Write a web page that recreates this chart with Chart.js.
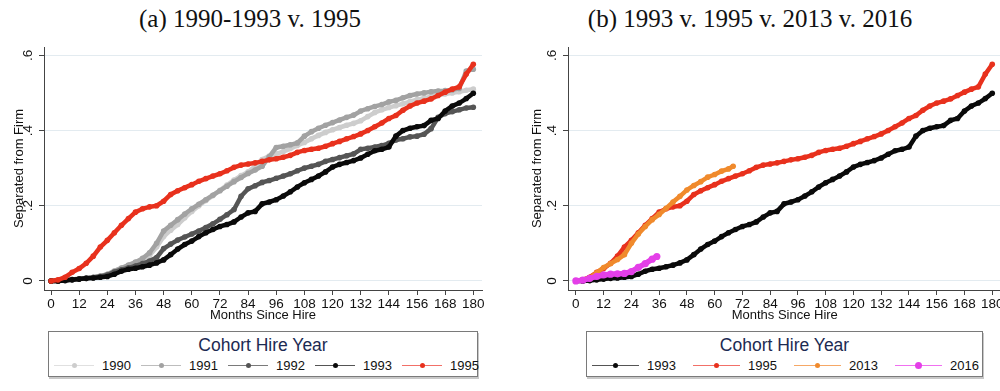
<!DOCTYPE html>
<html>
<head>
<meta charset="utf-8">
<script src="https://cdn.jsdelivr.net/npm/chart.js@4/dist/chart.umd.min.js"></script>
<style>
  html, body { margin:0; padding:0; width:1000px; height:391px; overflow:hidden; background:#fff; }
  body { position:relative; font-family:"Liberation Sans", Arial, sans-serif; }
  .ptitle { position:absolute; top:4px; width:500px; text-align:center; line-height:29px; font-family:"Liberation Serif", "Times New Roman", serif; font-size:25px; color:#111; }
  .wrap { position:absolute; top:0; height:330px; }
  .legend { position:absolute; top:331px; height:44px; border:1px solid #7a7a7a; box-shadow:1px 2px 0 #c8c8c8; background:#fff; }
  .legend .lt { position:absolute; top:3px; left:0; right:0; text-align:center; font-size:17.5px; color:#1c2a52; }
  .legend .item { position:absolute; top:26px; height:16px; }
  .legend .ln { position:absolute; top:7px; height:1px; }
  .legend .dot { position:absolute; border-radius:50%; }
  .legend .tx { position:absolute; top:0; font-size:13px; line-height:16px; color:#111; }
</style>
</head>
<body>
<div class="ptitle" style="left:0">(a) 1990-1993 v. 1995</div>
<div class="ptitle" style="left:500px">(b) 1993 v. 1995 v. 2013 v. 2016</div>
<div class="wrap" style="left:0;width:500px"><canvas id="leftChart"></canvas></div>
<div class="wrap" style="left:500px;width:520px"><canvas id="rightChart"></canvas></div>
<div class="legend" id="leftLegend" style="left:48px;width:428px"><div class="lt">Cohort Hire Year</div></div>
<div class="legend" id="rightLegend" style="left:586px;width:395px"><div class="lt">Cohort Hire Year</div></div>
<script>
// --- Data: share separated from firm, read every 3 months since hire ---
const months = [0,3,6,9,12,15,18,21,24,27,30,33,36,39,42,45,48,51,54,57,60,63,66,69,72,75,78,81,84,87,90,
  93,96,99,102,105,108,111,114,117,120,123,126,129,132,135,138,141,144,147,150,153,156,159,162,165,168,171,174,177,180];

const sep1990 = [0,0,0.002,0.004,0.006,0.008,0.01,0.013,0.018,0.027,0.035,0.04,0.046,0.055,0.068,0.09,0.118,0.135,0.15,0.168,0.185,
  0.2,0.214,0.227,0.241,0.255,0.268,0.28,0.29,0.305,0.323,0.332,0.338,0.344,0.352,0.36,0.368,0.378,0.387,0.395,0.402,
  0.408,0.414,0.419,0.426,0.437,0.448,0.455,0.461,0.466,0.471,0.477,0.482,0.486,0.49,0.494,0.497,0.5,0.503,0.507,0.51];
const sep1991 = [0,0,0.002,0.004,0.006,0.008,0.01,0.013,0.018,0.026,0.034,0.042,0.05,0.06,0.075,0.1,0.133,0.148,0.163,0.178,0.192,
  0.204,0.216,0.228,0.24,0.252,0.264,0.275,0.286,0.295,0.305,0.33,0.355,0.358,0.362,0.367,0.385,0.397,0.406,0.414,0.421,
  0.428,0.435,0.441,0.452,0.458,0.464,0.469,0.476,0.48,0.487,0.493,0.497,0.5,0.503,0.505,0.506,0.508,0.512,0.558,0.563];
const sep1992 = [0,0,0.002,0.004,0.005,0.007,0.009,0.012,0.016,0.024,0.03,0.035,0.04,0.046,0.053,0.062,0.086,0.098,0.109,0.117,0.125,
  0.133,0.142,0.152,0.164,0.176,0.19,0.225,0.245,0.253,0.262,0.267,0.273,0.279,0.285,0.293,0.3,0.305,0.31,0.318,0.323,
  0.328,0.333,0.338,0.35,0.353,0.356,0.36,0.366,0.375,0.378,0.383,0.385,0.39,0.405,0.435,0.445,0.45,0.455,0.46,0.462];
const sep1993 = [0,0,0.001,0.003,0.005,0.007,0.008,0.01,0.012,0.018,0.026,0.031,0.034,0.038,0.042,0.048,0.056,0.07,0.085,0.097,0.106,
  0.118,0.128,0.137,0.145,0.15,0.157,0.17,0.181,0.185,0.205,0.21,0.216,0.226,0.237,0.25,0.261,0.27,0.279,0.29,0.303,
  0.31,0.315,0.32,0.327,0.337,0.346,0.35,0.356,0.385,0.4,0.406,0.41,0.413,0.427,0.432,0.452,0.465,0.473,0.485,0.499];
const sep1995 = [0,0.003,0.01,0.023,0.033,0.047,0.066,0.09,0.108,0.128,0.148,0.166,0.183,0.192,0.197,0.2,0.212,0.23,0.24,0.248,0.256,
  0.265,0.272,0.279,0.285,0.293,0.302,0.308,0.311,0.314,0.318,0.322,0.325,0.329,0.334,0.342,0.347,0.35,0.353,0.358,0.365,
  0.371,0.378,0.384,0.391,0.4,0.41,0.42,0.432,0.44,0.454,0.465,0.473,0.478,0.484,0.493,0.502,0.51,0.516,0.55,0.576];

const months2013 = [0,3,6,9,12,15,18,21,24,27,30,33,36,39,42,45,48,51,54,57,60,63,66,68];
const sep2013 = [0,0.003,0.008,0.022,0.036,0.046,0.057,0.07,0.1,0.125,0.145,0.163,0.177,0.193,0.21,0.225,0.242,0.254,0.264,0.276,0.283,0.292,0.298,0.305];
const months2016 = [0,3,6,9,12,15,18,21,24,27,30,33,35];
const sep2016 = [0,0.002,0.007,0.012,0.016,0.018,0.019,0.02,0.025,0.036,0.046,0.058,0.065];

const xTicks = [0,12,24,36,48,60,72,84,96,108,120,132,144,156,168,180];
const yTicks = [0,0.2,0.4,0.6];
const yTickLabels = ['0','.2','.4','.6'];

// --- Styles per cohort ---
const style = {
  '1990': { color:'#cdcdcd', legendLine:'#e0e0e0', r:2.8 },
  '1991': { color:'#a2a2a2', legendLine:'#bdbdbd', r:2.8 },
  '1992': { color:'#555555', legendLine:'#7a7a7a', r:2.8 },
  '1993': { color:'#0a0a0a', legendLine:'#555555', r:2.8 },
  '1995': { color:'#e8311d', legendLine:'#f27068', r:2.8 },
  '2013': { color:'#f08a2c', legendLine:'#f6a866', r:2.8 },
  '2016': { color:'#e43fe8', legendLine:'#f070f0', r:3.6 }
};

const pts = (xs, ys) => xs.map((x, i) => ({ x: x, y: ys[i] }));

function dataset(year, xs, ys, order) {
  const s = style[year];
  return {
    label: year,
    data: pts(xs, ys),
    borderColor: s.color,
    backgroundColor: s.color,
    borderWidth: s.r > 3 ? 5.5 : 4.5,
    pointRadius: s.r,
    pointBorderWidth: 0,
    pointBackgroundColor: s.color,
    tension: 0,
    fill: false,
    order: order
  };
}

const tickFont = { family: 'Liberation Sans', size: 13.5 };
const titleFont = { family: 'Liberation Sans', size: 13 };

function makeChart(id, datasets, xMin, xMax, yWidth, yTitlePad, padRight) {
  return new Chart(document.getElementById(id), {
    type: 'line',
    data: { datasets: datasets },
    options: {
      responsive: true,
      maintainAspectRatio: false,
      animation: false,
      devicePixelRatio: 1,
      layout: { padding: { left: 0, top: 47, right: padRight, bottom: 0 } },
      plugins: { legend: { display: false }, tooltip: { enabled: false } },
      scales: {
        x: {
          type: 'linear', min: xMin, max: xMax,
          afterBuildTicks: s => { s.ticks = xTicks.map(v => ({ value: v })); },
          afterFit: s => { s.height = 40; },
          grid: { drawOnChartArea: false, drawTicks: true, tickLength: 5, tickColor: '#444' },
          border: { color: '#444', width: 1 },
          ticks: { color: '#111', font: tickFont, padding: 1, maxRotation: 0, autoSkip: false, callback: v => String(v) },
          title: { display: true, text: 'Months Since Hire', color: '#111', font: titleFont, padding: { top: 0, bottom: 7 } }
        },
        y: {
          min: -0.024, max: 0.622,
          afterBuildTicks: s => { s.ticks = yTicks.map(v => ({ value: v })); },
          afterFit: s => { s.width = yWidth; },
          grid: { color: '#e3ebf0', lineWidth: 1, tickLength: 5, tickColor: '#444' },
          border: { color: '#444', width: 1 },
          ticks: { color: '#111', font: tickFont, padding: 5, minRotation: 90, maxRotation: 90, crossAlign: 'center', autoSkip: false,
                   callback: v => yTickLabels[yTicks.indexOf(v)] },
          title: { display: true, text: 'Separated from Firm', color: '#111', font: titleFont, padding: { top: yTitlePad, bottom: 0 } }
        }
      }
    }
  });
}

makeChart('leftChart', [
  dataset('1990', months, sep1990, 5),
  dataset('1991', months, sep1991, 4),
  dataset('1992', months, sep1992, 3),
  dataset('1993', months, sep1993, 2),
  dataset('1995', months, sep1995, 1)
], -3, 183.7, 44, 12, 18);

makeChart('rightChart', [
  dataset('1993', months, sep1993, 4),
  dataset('1995', months, sep1995, 3),
  dataset('2013', months2013, sep2013, 2),
  dataset('2016', months2016, sep2016, 1)
], -3.4, 184, 68, 30, 18.5);

// --- Legends ---
function buildLegend(id, years, pitch, lineW) {
  const box = document.getElementById(id);
  years.forEach((y, i) => {
    const s = style[y];
    const item = document.createElement('div');
    item.className = 'item';
    item.style.left = (5 + i * pitch) + 'px';
    const d = s.r > 3 ? 7 : 5;
    item.innerHTML =
      '<div class="ln" style="left:0;width:' + lineW + 'px;background:' + s.legendLine + '"></div>' +
      '<div class="dot" style="left:' + (lineW / 2 - d / 2) + 'px;top:' + (7.5 - d / 2) + 'px;width:' + d + 'px;height:' + d + 'px;background:' + s.color + '"></div>' +
      '<div class="tx" style="left:' + (lineW + 8) + 'px">' + y + '</div>';
    box.appendChild(item);
  });
}
buildLegend('leftLegend', ['1990','1991','1992','1993','1995'], 87, 40);
buildLegend('rightLegend', ['1993','1995','2013','2016'], 101, 47);
</script>
</body>
</html>
